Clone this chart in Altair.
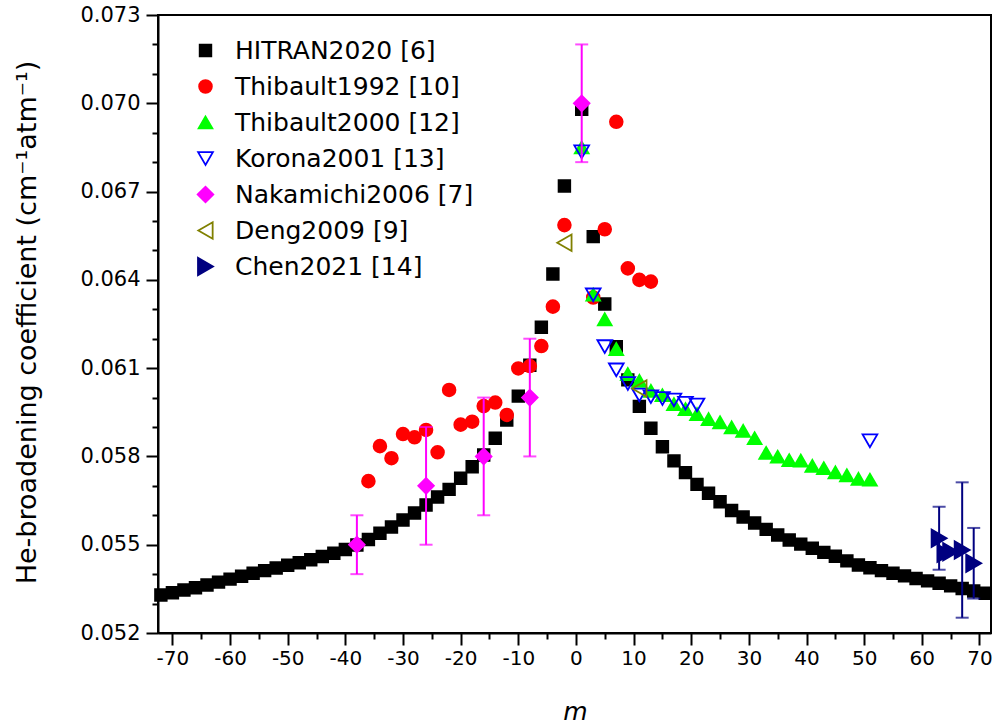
import altair as alt
import pandas as pd

# ---------------- data ----------------
series_names = ["HITRAN2020 [6]", "Thibault1992 [10]", "Thibault2000 [12]",
                "Korona2001 [13]", "Nakamichi2006 [7]", "Deng2009 [9]", "Chen2021 [14]"]

hitran_m = [-72, -70, -68, -66, -64, -62, -60, -58, -56, -54, -52, -50, -48, -46, -44, -42,
            -40, -38, -36, -34, -32, -30, -28, -26, -24, -22, -20, -18, -16, -14, -12, -10,
            -8, -6, -4, -2,
            1, 3, 5, 7, 9, 11, 13, 15, 17, 19, 21, 23, 25, 27, 29, 31, 33, 35, 37, 39, 41,
            43, 45, 47, 49, 51, 53, 55, 57, 59, 61, 63, 65, 67, 69, 71]
hitran_v = [0.05329, 0.05337, 0.05346, 0.05354, 0.05363, 0.05373, 0.05383, 0.05393, 0.05403,
            0.05412, 0.05421, 0.05430, 0.05439, 0.05449, 0.05460, 0.05471, 0.05484, 0.05499,
            0.05518, 0.05539, 0.05560, 0.05584, 0.05608, 0.05635, 0.05662, 0.05688, 0.05726,
            0.05765, 0.05805, 0.05862, 0.05924, 0.06005, 0.06110, 0.06239, 0.06420, 0.06719,
            0.06980, 0.06547, 0.06318, 0.06173, 0.06060, 0.05970, 0.05896, 0.05833, 0.05785,
            0.05745, 0.05705, 0.05675, 0.05646, 0.05616, 0.05594, 0.05574, 0.05552, 0.05533,
            0.05516, 0.05502, 0.05488, 0.05474, 0.05461, 0.05445, 0.05431, 0.05422, 0.05412,
            0.05403, 0.05394, 0.05385, 0.05377, 0.05369, 0.05360, 0.05351, 0.05343, 0.05335]

thib92_m = [-36, -34, -32, -30, -28, -26, -24, -22, -20, -18, -16, -14, -12, -10, -8, -6,
            -4, -2, 3, 5, 7, 9, 11, 13]
thib92_v = [0.05716, 0.05835, 0.05794, 0.05876, 0.05865, 0.05890, 0.05814, 0.06026, 0.05908,
            0.05918, 0.05971, 0.05983, 0.05941, 0.06099, 0.06107, 0.06175, 0.06309, 0.06586,
            0.06340, 0.06572, 0.06937, 0.06439, 0.06400, 0.06394]

thib00_m = [1, 3, 5, 7, 9, 11, 13, 15, 17, 19, 21, 23, 25, 27, 29, 31, 33, 35, 37, 39, 41,
            43, 45, 47, 49, 51]
thib00_v = [0.06850, 0.06350, 0.06266, 0.06165, 0.06080, 0.06057, 0.06023, 0.06008, 0.05978,
            0.05961, 0.05944, 0.05927, 0.05916, 0.05899, 0.05887, 0.05862, 0.05812, 0.05799,
            0.05787, 0.05786, 0.05768, 0.05760, 0.05746, 0.05736, 0.05724, 0.05721]

korona_m = [1, 3, 5, 7, 9, 11, 13, 15, 17, 19, 21, 51]
korona_v = [0.06835, 0.06349, 0.06173, 0.06094, 0.06048, 0.06009, 0.06003, 0.05997, 0.05992,
            0.05981, 0.05975, 0.05853]

naka_m = [-38, -26, -16, -8, 1]
naka_v = [0.0550, 0.0570, 0.0580, 0.0600, 0.0700]
naka_err = [0.0010, 0.0020, 0.0020, 0.0020, 0.0020]

deng_m = [-2, 11]
deng_v = [0.06526, 0.06031]

chen_m = [63, 64, 65, 67, 69]
chen_v = [0.05522, 0.05471, 0.05476, 0.05482, 0.05437]
chen_err = [0.00107, 0.0, 0.0, 0.00230, 0.00120]

x_tick_values = list(range(-70, 71, 5))
y_tick_values = [0.052, 0.053, 0.054, 0.055, 0.056, 0.057, 0.058, 0.059, 0.060, 0.061, 0.062,
                 0.063, 0.064, 0.065, 0.066, 0.067, 0.068, 0.069, 0.070, 0.071, 0.072, 0.073]

# ---------------- styles ----------------
fill_colors = ["#000000", "#ff0000", "#00ff00", "transparent", "#ff00ff", "transparent", "#000080"]
stroke_colors = ["#000000", "#ff0000", "#00ff00", "#0000ff", "#ff00ff", "#808000", "#000080"]
shapes = ["square", "circle", "triangle-up", "triangle-down", "diamond", "triangle-left", "triangle-right"]
sizes = [135, 300, 420, 460, 440, 420, 380]

# ---------------- tables ----------------
all_m = [hitran_m, thib92_m, thib00_m, korona_m, naka_m, deng_m, chen_m]
all_v = [hitran_v, thib92_v, thib00_v, korona_v, naka_v, deng_v, chen_v]
rows = []
for name, ms, vs in zip(series_names, all_m, all_v):
    for m, v in zip(ms, vs):
        rows.append({"series": name, "m": m, "v": v})
df = pd.DataFrame(rows)

err_rows = []
for ms, vs, es, col in [(naka_m, naka_v, naka_err, "#ff00ff"), (chen_m, chen_v, chen_err, "#000080")]:
    for m, v, e in zip(ms, vs, es):
        if e > 0:
            err_rows.append({"m": m, "lo": v - e, "hi": v + e, "col": col})
err_df = pd.DataFrame(err_rows)

# ---------------- chart ----------------
FONT = "DejaVu Sans"
YTITLE = "He-broadening coefficient (cm\u207b\u00b9atm\u207b\u00b9)"

xs = alt.Scale(domain=[-72.5, 72], nice=False, zero=False)
ys = alt.Scale(domain=[0.052, 0.073], nice=False, zero=False)

Y_MAJOR = "abs(round(datum.value * 1000) - 52) % 3 === 0"

x_axis = alt.Axis(
    values=x_tick_values, grid=False, title="m",
    labelExpr="datum.value % 10 === 0 ? '' + datum.value : ''",
    tickSize={"condition": {"test": "datum.value % 10 === 0", "value": 12}, "value": 6},
    labelFont=FONT, labelFontSize=20, labelColor="black", labelPadding=3,
    labelOverlap=False, labelFlush=False, labelBound=False,
    titleFont=FONT, titleFontSize=25, titleFontStyle="italic", titleFontWeight="normal",
    titleColor="black", titleX=417, titleY=78, titleBaseline="middle", titleAlign="center",
    domainColor="black", domainWidth=2, tickColor="black", tickWidth=2,
)
y_axis = alt.Axis(
    values=y_tick_values, grid=False, title=YTITLE,
    labelExpr=Y_MAJOR + " ? format(datum.value, '.3f') : ''",
    tickSize={"condition": {"test": Y_MAJOR, "value": 12}, "value": 6},
    labelFont=FONT, labelFontSize=21, labelColor="black", labelPadding=6,
    labelOverlap=False, labelFlush=False, labelBound=False,
    titleFont=FONT, titleFontSize=27, titleFontWeight="normal", titleColor="black",
    titleAngle=270, titleX=-131, titleY=307, titleBaseline="middle", titleAlign="center",
    domainColor="black", domainWidth=2, tickColor="black", tickWidth=2,
)

leg = alt.Legend(
    orient="none", legendX=35, legendY=23, title=None, padding=0,
    labelFont=FONT, labelFontSize=25, labelColor="black", labelOffset=17,
    rowPadding=10, symbolStrokeWidth=1.8, symbolOpacity=1, labelLimit=400,
)

points = alt.Chart(df).mark_point(filled=True, opacity=1, strokeWidth=1.8).encode(
    x=alt.X("m:Q", scale=xs, axis=x_axis),
    y=alt.Y("v:Q", scale=ys, axis=y_axis),
    fill=alt.Fill("series:N", scale=alt.Scale(domain=series_names, range=fill_colors), legend=leg),
    stroke=alt.Stroke("series:N", scale=alt.Scale(domain=series_names, range=stroke_colors), legend=leg),
    shape=alt.Shape("series:N", scale=alt.Scale(domain=series_names, range=shapes), legend=leg),
    size=alt.Size("series:N", scale=alt.Scale(domain=series_names, range=sizes), legend=leg),
)

err_rule = alt.Chart(err_df).mark_rule(strokeWidth=2).encode(
    x=alt.X("m:Q", scale=xs, axis=x_axis),
    y=alt.Y("lo:Q", scale=ys, axis=y_axis),
    y2="hi:Q",
    color=alt.Color("col:N", scale=None),
)
cap_lo = alt.Chart(err_df).mark_tick(orient="horizontal", size=13, thickness=2).encode(
    x=alt.X("m:Q", scale=xs, axis=x_axis),
    y=alt.Y("lo:Q", scale=ys, axis=y_axis),
    color=alt.Color("col:N", scale=None),
)
cap_hi = alt.Chart(err_df).mark_tick(orient="horizontal", size=13, thickness=2).encode(
    x=alt.X("m:Q", scale=xs, axis=x_axis),
    y=alt.Y("hi:Q", scale=ys, axis=y_axis),
    color=alt.Color("col:N", scale=None),
)

chart = alt.layer(points, err_rule, cap_lo, cap_hi).properties(
    width=833, height=618,
    autosize=alt.AutoSizeParams(type="none"),
    padding={"left": 158, "top": 15, "right": 5, "bottom": 92},
    background="white",
).configure_view(stroke="black", strokeWidth=2)

chart.save("out.html", embed_options={"renderer": "svg", "actions": False})
